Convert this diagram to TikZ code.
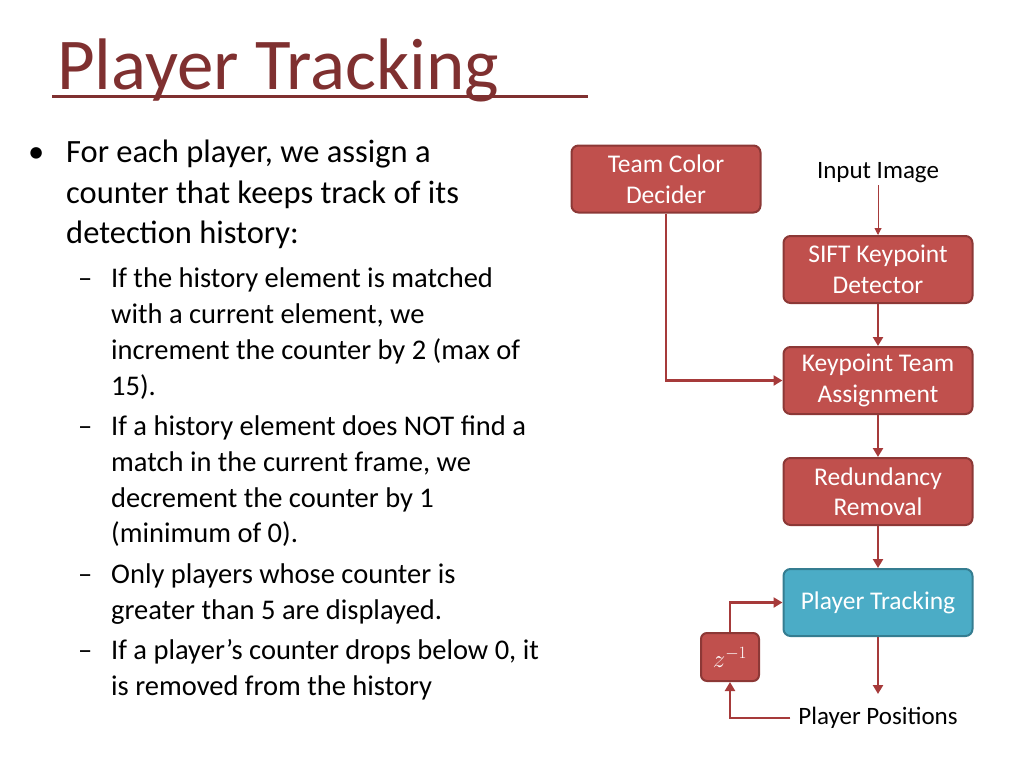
\documentclass[tikz,border=0pt]{standalone}
\usepackage{fontspec}
\setmainfont{Carlito}
\usetikzlibrary{arrows.meta}
\definecolor{boxred}{HTML}{C0504D}
\definecolor{boxredd}{HTML}{8C3836}
\definecolor{boxblue}{HTML}{4BACC6}
\definecolor{boxblued}{HTML}{357D91}
\definecolor{titlered}{HTML}{7F3030}
\definecolor{arr}{HTML}{A63A3A}
\begin{document}
\begin{tikzpicture}[x=1pt,y=-1pt,
  box/.style={draw=boxredd,fill=boxred,line width=2pt,rounded corners=7pt,text=white,align=center,font=\fontsize{25.5}{30.5}\selectfont,minimum width=189pt,minimum height=67pt,inner sep=0pt},
  conn/.style={draw=arr,line width=2.5pt,-{Triangle[length=9pt,width=10pt]}},
  bl/.style={anchor=north west,align=left,inner sep=0pt}]
\useasboundingbox (0,0) rectangle (1024,768);
\node[anchor=base west,inner sep=0pt,text=titlered,font=\fontsize{73}{75}\selectfont] (title) at (57,89) {Player Tracking};
\draw[titlered,line width=3pt] (52,96) -- (588,96);
\node[bl,font=\fontsize{32.5}{40.5}\selectfont] (b1) at (28,140) {\makebox[38pt][l]{•}For each player, we assign a\\\hspace*{38pt}counter that keeps track of its\\\hspace*{38pt}detection history:};
\node[bl,font=\fontsize{28.5}{35.7}\selectfont] (b2) at (78,268) {%
\makebox[33pt][l]{–}If the history element is matched\\\hspace*{33pt}with a current element, we\\\hspace*{33pt}increment the counter by 2 (max of\\\hspace*{33pt}15).\\[5pt]
\makebox[33pt][l]{–}If a history element does NOT find a\\\hspace*{33pt}match in the current frame, we\\\hspace*{33pt}decrement the counter by 1\\\hspace*{33pt}(minimum of 0).\\[5pt]
\makebox[33pt][l]{–}Only players whose counter is\\\hspace*{33pt}greater than 5 are displayed.\\[5pt]
\makebox[33pt][l]{–}If a player’s counter drops below 0, it\\\hspace*{33pt}is removed from the history};
\node[box] (tcd) at (666,179) {Team Color\\Decider};
\node[font=\fontsize{25}{28}\selectfont,inner sep=2pt] (in) at (878,173) {Input Image};
\node[box] (sift) at (878,269.5) {SIFT Keypoint\\Detector};
\node[box] (kta) at (878,380.5) {Keypoint Team\\Assignment};
\node[box] (rr) at (878,491.5) {Redundancy\\Removal};
\node[box,draw=boxblued,fill=boxblue] (pt) at (878,602.5) {Player Tracking};
\node[box,minimum width=58pt,minimum height=48pt,rounded corners=6pt,font=\fontsize{24}{26}\selectfont] (z) at (730,657) {$z^{-1}$};
\node[font=\fontsize{25}{28}\selectfont,inner sep=2pt] (pp) at (878,718) {Player Positions};
\draw[arr,line width=1pt,-{Triangle[length=7pt,width=7pt]}] (in) -- (sift);
\draw[conn] (sift) -- (kta);
\draw[conn] (kta) -- (rr);
\draw[conn] (rr) -- (pt);
\draw[conn] (pt) -- (878,694);
\draw[conn] (tcd.south) |- (kta.west);
\draw[conn] ([xshift=-6pt]pp.west) -| (z.south);
\draw[conn] (z.north) |- (pt.west);
\end{tikzpicture}
\end{document}
